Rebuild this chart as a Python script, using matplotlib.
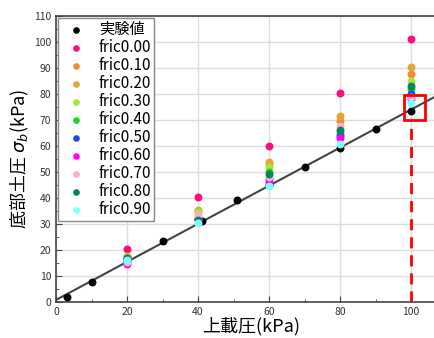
import matplotlib.pyplot as plt
import numpy as np

plt.rcParams['font.family'] = ['Noto Sans CJK JP', 'DejaVu Sans']

# experimental values
exp_x = [3.2, 10, 20, 30, 41, 51, 60, 70, 80, 90, 100]
exp_y = [1.8, 7.8, 15.6, 23.3, 31.0, 39.3, 45.0, 52.0, 59.1, 66.4, 73.3]

# linear fit line (slope, intercept)
fit_slope = 0.732
fit_intercept = 0.8

# simulated values at each loading step
sim_x = [20, 40, 60, 80, 100]
fric_labels = ['fric0.00', 'fric0.10', 'fric0.20', 'fric0.30', 'fric0.40',
               'fric0.50', 'fric0.60', 'fric0.70', 'fric0.80', 'fric0.90']
fric_y = [
    [20.2, 40.3, 59.9, 80.5, 101.0],
    [17.5, 35.0, 53.0, 69.6, 87.8],
    [17.6, 35.5, 53.8, 71.7, 90.4],
    [17.3, 34.5, 52.0, 65.5, 85.1],
    [17.0, 32.5, 50.0, 64.5, 82.0],
    [16.5, 32.0, 47.5, 63.8, 80.0],
    [14.8, 31.8, 46.3, 63.2, 78.1],
    [15.5, 33.5, 48.0, 67.8, 79.0],
    [16.8, 31.5, 49.2, 66.0, 82.9],
    [16.0, 30.3, 44.6, 60.9, 76.7],
]
fric_colors = ['#ff0a82', '#f58a2e', '#e8a630', '#a8e63a', '#1ed21e',
               '#1e46ff', '#ff00ff', '#ffaad8', '#00875a', '#80ffff']

fig = plt.figure(figsize=(4.35, 3.38), dpi=100)
ax = fig.add_axes([56 / 435, 36 / 338, 390.5 / 435, 286 / 338])

ax.grid(True, color='#dddddd', linewidth=1.0, zorder=0)

xs = np.array([0, 110])
ax.plot(xs, fit_intercept + fit_slope * xs, color='#444444', lw=1.5, zorder=2)

ax.scatter(exp_x, exp_y, s=22, color='black', label='実験値', zorder=3)
for lab, ys, c in zip(fric_labels, fric_y, fric_colors):
    ax.scatter(sim_x, ys, s=22, color=c, label=lab, zorder=3)

# highlight at 100 kPa
ax.plot([100, 100], [0, 70], color='red', lw=2, ls=(0, (4, 2.5)), zorder=4)
ax.add_patch(plt.Rectangle((98, 70), 6, 9.6, fill=False, edgecolor='red',
                           lw=2, zorder=5))

ax.set_xlim(0, 110)
ax.set_ylim(0, 110)
ax.set_xticks([0, 20, 40, 60, 80, 100])
ax.set_xticks([10, 30, 50, 70, 90], minor=True)
ax.set_yticks(range(0, 111, 10))
ax.set_yticks(range(5, 110, 10), minor=True)
ax.tick_params(which='both', direction='in', colors='#444444',
               labelcolor='#333333', labelsize=7.5)
ax.tick_params(which='major', length=4)
ax.tick_params(which='minor', length=2.5)
for s in ax.spines.values():
    s.set_color('#444444')
    s.set_linewidth(1.2)

ax.set_xlabel('上載圧(kPa)', fontsize=13, labelpad=0)
ax.set_ylabel('底部土圧 $\\sigma_b$(kPa)', fontsize=13, labelpad=2)

leg = ax.legend(loc='upper left', fontsize=11, frameon=True, fancybox=False,
                edgecolor='#888888', framealpha=1, handletextpad=0.5,
                borderaxespad=0.1, labelspacing=0.07, borderpad=0.2,
                handlelength=2.0, markerscale=0.8)
leg.get_frame().set_linewidth(1.0)

fig.savefig('out.png', dpi=100)
